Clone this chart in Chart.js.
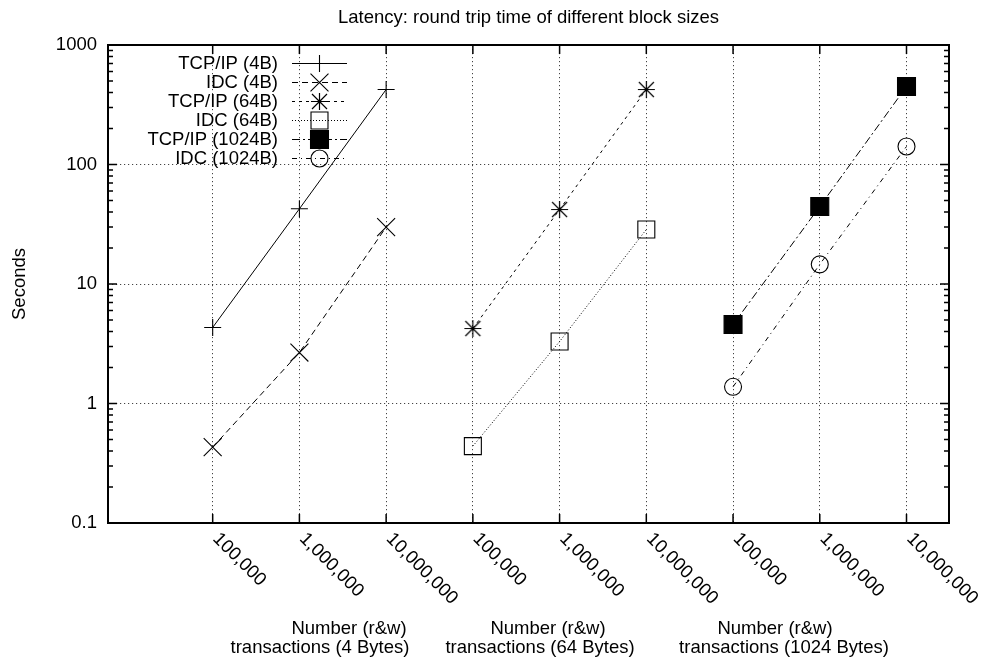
<!DOCTYPE html>
<html>
<head>
<meta charset="utf-8">
<title>Latency</title>
<script src="https://cdn.jsdelivr.net/npm/chart.js@4.4.1/dist/chart.umd.min.js"></script>
<style>
  html, body { margin: 0; padding: 0; background: #fff; }
  #wrap { width: 984px; height: 660px; }
</style>
</head>
<body>
<div id="wrap"><canvas id="latencyChart" width="984" height="660"></canvas></div>
<script>
// data
const xPositions = [1, 2, 3, 4, 5, 6, 7, 8, 9];
const xTickLabels = ['100,000', '1,000,000', '10,000,000',
                     '100,000', '1,000,000', '10,000,000',
                     '100,000', '1,000,000', '10,000,000'];
const yTickValues = [0.1, 1, 10, 100, 1000];
const yTickLabels = ['0.1', '1', '10', '100', '1000'];
const seriesLabels = ['TCP/IP (4B)', 'IDC (4B)', 'TCP/IP (64B)', 'IDC (64B)', 'TCP/IP (1024B)', 'IDC (1024B)'];
const tcp4 = [4.33, 42.6, 424];
const idc4 = [0.431, 2.67, 29.9];
const tcp64 = [4.24, 42, 424];
const idc64 = [0.44, 3.3, 28.6];
const tcp1024 = [4.58, 44.5, 449];
const idc1024 = [1.38, 14.6, 141.5];
const groupLine1 = ['Number (r&w)', 'Number (r&w)', 'Number (r&w)'];
const groupLine2 = ['transactions (4 Bytes)', 'transactions (64 Bytes)', 'transactions (1024 Bytes)'];
const chartTitle = 'Latency: round trip time of different block sizes';
const yTitle = 'Seconds';

const FONT = "'Liberation Sans', Arial, sans-serif";
const FS = 18.5;

// minor ticks between the decades
const yAllTicks = [];
yTickValues.forEach((v, i) => {
    yAllTicks.push(v);
    if (i < yTickValues.length - 1) {
        for (let m = 2; m <= 9; m++) yAllTicks.push(v * m);
    }
});

// gnuplot asterisk: a full + and a full x
function makeStar() {
    const c = document.createElement('canvas');
    c.width = 21; c.height = 21;
    const g = c.getContext('2d');
    const m = 10.5;
    g.strokeStyle = '#000';
    g.lineWidth = 1.2;
    g.beginPath();
    g.moveTo(m - 8.5, m); g.lineTo(m + 8.5, m);
    g.moveTo(m, m - 8.5); g.lineTo(m, m + 8.5);
    g.moveTo(m - 7.5, m - 7.5); g.lineTo(m + 7.5, m + 7.5);
    g.moveTo(m - 7.5, m + 7.5); g.lineTo(m + 7.5, m - 7.5);
    g.stroke();
    return c;
}

const series = [
    { values: tcp4, start: 0, dash: [], style: 'cross', radius: 8.5, fill: 'transparent' },
    { values: idc4, start: 0, dash: [6, 4], style: 'crossRot', radius: 12.7, fill: 'transparent' },
    { values: tcp64, start: 3, dash: [3, 4], style: makeStar(), radius: 9, fill: 'transparent' },
    { values: idc64, start: 3, dash: [1, 2], style: 'rect', radius: 12, fill: 'transparent' },
    { values: tcp1024, start: 6, dash: [8, 3, 2, 3], style: 'rect', radius: 12.7, fill: '#000' },
    { values: idc1024, start: 6, dash: [5, 4, 1, 4], style: 'circle', radius: 8.5, fill: 'transparent' }
];

const datasets = series.map((s, k) => ({
    label: seriesLabels[k],
    data: s.values.map((v, i) => ({ x: xPositions[s.start + i], y: v })),
    borderColor: '#000',
    borderWidth: 1,
    borderDash: s.dash,
    pointStyle: s.style,
    pointRadius: s.radius,
    pointHoverRadius: s.radius,
    pointBorderColor: '#000',
    pointBorderWidth: 1.1,
    pointBackgroundColor: s.fill,
    tension: 0,
    fill: false
}));

const gnuplotDecor = {
    id: 'gnuplotDecor',
    beforeDatasetsDraw(chart) {
        const ctx = chart.ctx;
        const a = chart.chartArea;
        const xs = chart.scales.x, ys = chart.scales.y;
        ctx.save();
        ctx.strokeStyle = '#444';
        ctx.lineWidth = 1;
        ctx.setLineDash([1.2, 2.8]);
        xPositions.forEach(v => {
            const px = Math.floor(xs.getPixelForValue(v)) + 0.5;
            ctx.beginPath(); ctx.moveTo(px, a.top); ctx.lineTo(px, a.bottom); ctx.stroke();
        });
        yTickValues.slice(1, -1).forEach(v => {
            const py = Math.floor(ys.getPixelForValue(v)) + 0.5;
            ctx.beginPath(); ctx.moveTo(a.left, py); ctx.lineTo(a.right, py); ctx.stroke();
        });
        ctx.restore();
    },
    afterDraw(chart) {
        const ctx = chart.ctx;
        const a = chart.chartArea;
        const xs = chart.scales.x, ys = chart.scales.y;
        ctx.save();
        ctx.strokeStyle = '#000';
        ctx.fillStyle = '#000';

        // tick marks, pointing inward on all four sides
        ctx.lineWidth = 1.5;
        ctx.setLineDash([]);
        yAllTicks.forEach(v => {
            const py = ys.getPixelForValue(v);
            const len = yTickValues.includes(v) ? 9 : 5;
            ctx.beginPath();
            ctx.moveTo(a.left, py); ctx.lineTo(a.left + len, py);
            ctx.moveTo(a.right, py); ctx.lineTo(a.right - len, py);
            ctx.stroke();
        });
        xPositions.forEach(v => {
            const px = xs.getPixelForValue(v);
            ctx.beginPath();
            ctx.moveTo(px, a.bottom); ctx.lineTo(px, a.bottom - 9);
            ctx.moveTo(px, a.top); ctx.lineTo(px, a.top + 9);
            ctx.stroke();
        });

        // frame
        ctx.lineWidth = 2;
        ctx.strokeRect(a.left, a.top, a.right - a.left, a.bottom - a.top);

        ctx.font = FS + 'px ' + FONT;

        // rotated x tick labels
        ctx.textAlign = 'left';
        ctx.textBaseline = 'middle';
        xPositions.forEach((v, i) => {
            const px = xs.getPixelForValue(v);
            ctx.save();
            ctx.translate(px + 3, a.bottom + 13);
            ctx.rotate(Math.PI / 4);
            ctx.fillText(xTickLabels[i], 0, 0);
            ctx.restore();
        });

        // group axis labels
        ctx.textAlign = 'center';
        ctx.textBaseline = 'alphabetic';
        const line1X = [349, 548, 775];
        const line2X = [320, 540, 784];
        groupLine1.forEach((t, i) => ctx.fillText(t, line1X[i], 634));
        groupLine2.forEach((t, i) => ctx.fillText(t, line2X[i], 653));

        // title
        ctx.fillText(chartTitle, (a.left + a.right) / 2, 23);

        // y title
        ctx.save();
        ctx.translate(25, (a.top + a.bottom) / 2);
        ctx.rotate(-Math.PI / 2);
        ctx.fillText(yTitle, 0, 0);
        ctx.restore();

        // key, top left inside the plot
        chart.data.datasets.forEach((ds, i) => {
            const y = Math.floor(63 + i * 19) + 0.5;
            ctx.textAlign = 'right';
            ctx.textBaseline = 'middle';
            ctx.fillStyle = '#000';
            ctx.fillText(ds.label, 278, y);
            ctx.lineWidth = 1;
            ctx.setLineDash(ds.borderDash);
            ctx.beginPath();
            ctx.moveTo(292, y);
            ctx.lineTo(347, y);
            ctx.stroke();
            ctx.setLineDash([]);
            ctx.fillStyle = ds.pointBackgroundColor;
            ctx.strokeStyle = '#000';
            ctx.lineWidth = ds.pointBorderWidth;
            Chart.helpers.drawPoint(ctx, {
                pointStyle: ds.pointStyle,
                radius: ds.pointRadius,
                rotation: 0,
                borderWidth: ds.pointBorderWidth
            }, 319.5, y);
            ctx.strokeStyle = '#000';
        });
        ctx.restore();
    }
};

new Chart(document.getElementById('latencyChart'), {
    type: 'line',
    data: { datasets: datasets },
    plugins: [gnuplotDecor],
    options: {
        responsive: false,
        animation: false,
        devicePixelRatio: 1,
        layout: { padding: { top: 45, right: 35, bottom: 137, left: 0 } },
        plugins: {
            legend: { display: false },
            tooltip: { enabled: false },
            title: { display: false }
        },
        scales: {
            x: {
                type: 'linear',
                display: false,
                min: -0.207,
                max: 9.49,
                afterBuildTicks: scale => { scale.ticks = xPositions.map(v => ({ value: v })); }
            },
            y: {
                type: 'logarithmic',
                min: 0.1,
                max: 1000,
                grid: { display: false, drawTicks: false },
                border: { display: false },
                afterBuildTicks: scale => { scale.ticks = yAllTicks.map(v => ({ value: v })); },
                afterFit: scale => { scale.width = 108; },
                ticks: {
                    autoSkip: false,
                    padding: 11,
                    color: '#000',
                    font: { family: FONT, size: FS },
                    callback: value => {
                        const i = yTickValues.indexOf(value);
                        return i >= 0 ? yTickLabels[i] : '';
                    }
                }
            }
        }
    }
});
</script>
</body>
</html>
